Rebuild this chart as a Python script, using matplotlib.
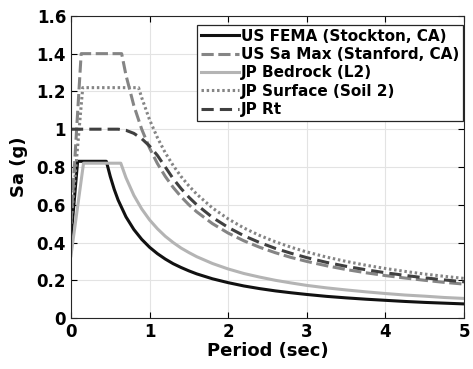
import numpy as np
import matplotlib
matplotlib.use("Agg")
import matplotlib.pyplot as plt

plt.rcParams['font.family'] = ['DejaVu Sans']
plt.rcParams['font.weight'] = 'bold'

tail_T = [1.0, 1.1, 1.2, 1.3, 1.4, 1.5, 1.6, 1.8, 2.0, 2.2, 2.4, 2.6, 2.8, 3.0,
          3.25, 3.5, 3.75, 4.0, 4.25, 4.5, 4.75, 5.0]

# US FEMA (Stockton, CA)
fema_T = [0, 0.085, 0.45, 0.5, 0.55, 0.6, 0.7, 0.8, 0.9] + tail_T
fema_Sa = [0.42, 0.83, 0.83, 0.75, 0.682, 0.625, 0.536, 0.469, 0.417,
           0.375, 0.341, 0.3125, 0.288, 0.268, 0.25, 0.234, 0.208, 0.1875, 0.170, 0.156,
           0.144, 0.134, 0.125, 0.115, 0.107, 0.1, 0.094, 0.088, 0.083, 0.079, 0.075]

# US Sa Max (Stanford, CA)
samax_T = [0, 0.13, 0.645, 0.7, 0.8, 0.9] + tail_T
samax_Sa = [0.5, 1.4, 1.4, 1.286, 1.125, 1.0,
            0.9, 0.818, 0.75, 0.692, 0.643, 0.6, 0.5625, 0.5, 0.45, 0.409, 0.375,
            0.346, 0.321, 0.3, 0.277, 0.257, 0.24, 0.225, 0.212, 0.2, 0.189, 0.18]

# JP Bedrock (L2)
bed_T = [0, 0.16, 0.634, 0.7, 0.8, 0.9] + tail_T
bed_Sa = [0.33, 0.82, 0.82, 0.743, 0.65, 0.578,
          0.52, 0.473, 0.433, 0.4, 0.371, 0.347, 0.325, 0.289, 0.26, 0.236, 0.217,
          0.2, 0.186, 0.173, 0.16, 0.149, 0.139, 0.13, 0.122, 0.116, 0.109, 0.104]

# JP Surface (Soil 2)
surf_T = [0, 0.15, 0.86, 0.9] + tail_T
surf_Sa = [0.5, 1.22, 1.22, 1.167,
           1.05, 0.955, 0.875, 0.808, 0.75, 0.7, 0.656, 0.583, 0.525, 0.477, 0.4375,
           0.404, 0.375, 0.35, 0.323, 0.3, 0.28, 0.2625, 0.247, 0.233, 0.221, 0.21]

# JP Rt
rt_T = [0, 0.6, 0.7, 0.8, 0.9] + tail_T
rt_Sa = [1.0, 1.0, 0.994, 0.978, 0.95,
         0.911, 0.861, 0.8, 0.738, 0.686, 0.64, 0.6, 0.533, 0.48, 0.436, 0.4,
         0.369, 0.343, 0.32, 0.295, 0.274, 0.256, 0.24, 0.226, 0.213, 0.202, 0.192]

fig = plt.figure(figsize=(4.73, 3.69), dpi=100)
ax = fig.add_axes([0.150, 0.138, 0.831, 0.819])

ax.plot(fema_T, fema_Sa, color="#111111", lw=2.2, label="US FEMA (Stockton, CA)")
ax.plot(samax_T, samax_Sa, color="#858585", lw=2.2, ls=(0, (4, 1.5)), label="US Sa Max (Stanford, CA)")
ax.plot(bed_T, bed_Sa, color="#b4b4b4", lw=2.2, label="JP Bedrock (L2)")
ax.plot(surf_T, surf_Sa, color="#858585", lw=2.2, ls=(0, (0.8, 0.9)), label="JP Surface (Soil 2)")
ax.plot(rt_T, rt_Sa, color="#404040", lw=2.2, ls=(0, (4, 2)), label="JP Rt")

ax.set_xlim(0, 5)
ax.set_ylim(0, 1.6)
ax.set_xticks([0, 1, 2, 3, 4, 5])
ax.set_yticks([0, 0.2, 0.4, 0.6, 0.8, 1.0, 1.2, 1.4, 1.6])
ax.set_yticklabels(["0", "0.2", "0.4", "0.6", "0.8", "1", "1.2", "1.4", "1.6"])
ax.grid(True, color="#e3e3e3", lw=0.8)
ax.set_axisbelow(True)
ax.tick_params(direction="in", top=True, right=True, labelsize=12, length=4)
for lab in ax.get_xticklabels() + ax.get_yticklabels():
    lab.set_fontweight("bold")
for sp in ax.spines.values():
    sp.set_color("#262626")

ax.set_xlabel("Period (sec)", fontsize=13, fontweight="bold", labelpad=1)
ax.set_ylabel("Sa (g)", fontsize=13, fontweight="bold", labelpad=6)

leg = ax.legend(loc="upper right", fontsize=11, handlelength=2.5, handletextpad=0.1,
                borderpad=0.25, labelspacing=0.22, fancybox=False, framealpha=1,
                edgecolor="#262626", borderaxespad=0, bbox_to_anchor=(0.997, 0.97))
leg.get_frame().set_linewidth(0.9)
for t in leg.get_texts():
    t.set_fontweight("bold")

fig.savefig("out.png", dpi=100)
